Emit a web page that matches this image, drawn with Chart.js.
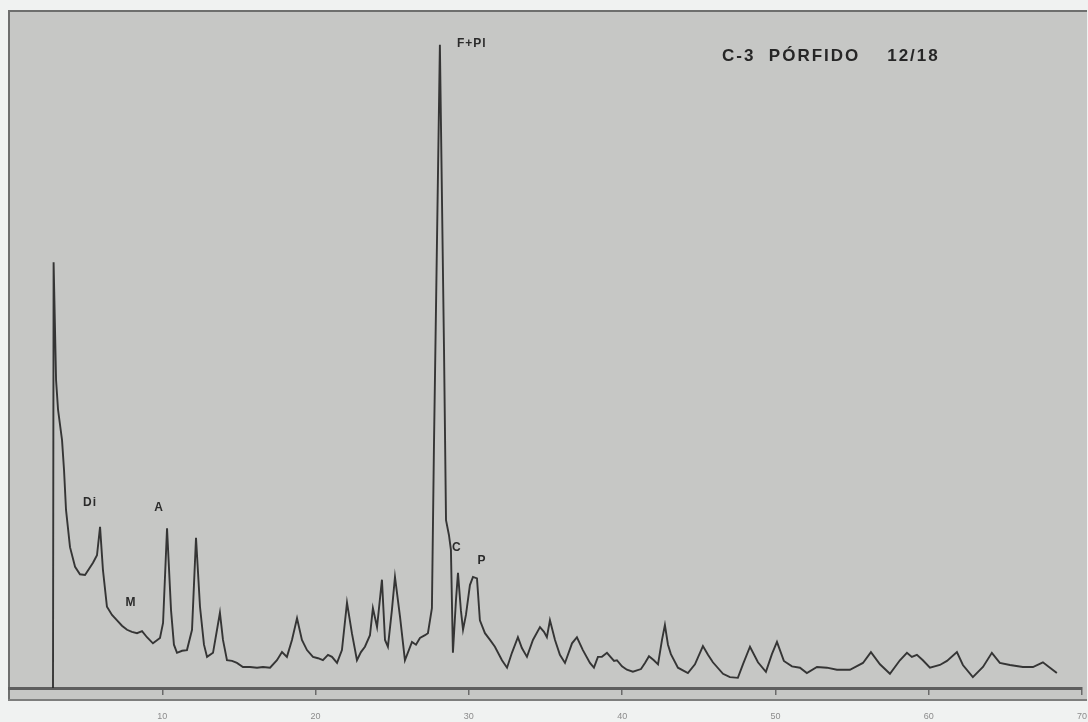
<!DOCTYPE html>
<html lang="es">
<head>
  <meta charset="UTF-8">
  <title>C-3 Pórfido 12/18 - Difractograma</title>
  <script src="https://cdn.jsdelivr.net/npm/chart.js"></script>
  <style>
    html, body { margin: 0; padding: 0; background: #f0f2f1; }
    #wrap { position: relative; width: 1088px; height: 722px; }
  </style>
</head>
<body>
  <div id="wrap"><canvas id="xrd"></canvas></div>

  <script>
    // Ángulo 2θ (grados) e intensidad relativa del barrido
    const twoTheta = [
      2.87, 2.91, 3.07, 3.20, 3.46, 3.59, 3.72, 3.98, 4.31, 4.63,
      4.96, 5.48, 5.74, 5.94, 6.13, 6.39, 6.72, 7.05, 7.37, 7.70,
      8.02, 8.35, 8.68, 9.00, 9.39, 9.85, 10.05, 10.31, 10.57, 10.76,
      10.96, 11.29, 11.61, 11.94, 12.20, 12.46, 12.72, 12.92, 13.31, 13.57,
      13.76, 13.96, 14.22, 14.55, 14.87, 15.26, 15.72, 16.18, 16.57, 17.03,
      17.48, 17.81, 18.13, 18.46, 18.79, 19.11, 19.44, 19.83, 20.16, 20.48,
      20.81, 21.07, 21.40, 21.72, 22.05, 22.37, 22.70, 22.96, 23.22, 23.55,
      23.74, 24.01, 24.33, 24.53, 24.72, 24.98, 25.18, 25.51, 25.83, 26.29,
      26.55, 26.81, 27.14, 27.33, 27.59, 27.72, 28.11, 28.38, 28.51, 28.70,
      28.83, 28.96, 29.16, 29.29, 29.48, 29.62, 29.81, 30.07, 30.27, 30.53,
      30.72, 31.05, 31.38, 31.70, 32.16, 32.49, 32.81, 33.20, 33.46, 33.79,
      34.18, 34.64, 34.90, 35.09, 35.29, 35.62, 35.94, 36.27, 36.73, 37.05,
      37.44, 37.90, 38.16, 38.42, 38.68, 39.01, 39.47, 39.66, 39.99, 40.31,
      40.70, 41.23, 41.49, 41.75, 42.07, 42.34, 42.60, 42.79, 42.99, 43.18,
      43.64, 44.29, 44.75, 45.27, 45.60, 45.92, 46.58, 47.03, 47.55, 47.88,
      48.34, 48.86, 49.38, 49.77, 50.10, 50.55, 51.08, 51.60, 52.05, 52.71,
      53.36, 54.01, 54.86, 55.71, 56.23, 56.82, 57.47, 58.12, 58.58, 58.90,
      59.23, 59.62, 60.08, 60.73, 61.19, 61.84, 62.23, 62.88, 63.54, 64.12,
      64.64, 65.30, 66.14, 66.80, 67.45, 67.91, 68.36
    ];
    const counts = [
      0, 629, 455, 411, 366, 322, 263, 208, 179, 168,
      167, 185, 196, 238, 174, 120, 108, 100, 92, 86,
      83, 81, 84, 75, 66, 74, 96, 236, 115, 64,
      52, 55, 56, 86, 222, 120, 64, 46, 52, 86,
      111, 71, 41, 40, 37, 31, 31, 30, 31, 30,
      41, 53, 46, 71, 103, 71, 56, 46, 44, 41,
      49, 46, 37, 56, 126, 81, 41, 53, 61, 78,
      118, 90, 160, 71, 61, 115, 164, 105, 41, 68,
      64, 74, 78, 81, 118, 352, 950, 499, 248, 226,
      204, 52, 130, 170, 115, 86, 108, 152, 164, 162,
      100, 81, 71, 61, 41, 30, 52, 75, 59, 46,
      71, 90, 83, 75, 100, 71, 49, 37, 66, 75,
      56, 37, 30, 46, 46, 52, 40, 41, 32, 27,
      24, 28, 37, 47, 41, 35, 71, 93, 64, 50,
      30, 22, 35, 62, 49, 38, 21, 16, 15, 35,
      61, 38, 24, 50, 68, 40, 32, 30, 22, 31,
      30, 27, 27, 37, 53, 35, 21, 41, 52, 46,
      49, 41, 30, 34, 40, 53, 34, 16, 31, 52,
      37, 34, 31, 31, 38, 30, 22
    ];
    const xTicks = [10, 20, 30, 40, 50, 60, 70];

    const sampleTitle = 'C-3  PÓRFIDO    12/18';
    // Fases identificadas y el 2θ del pico que marcan
    const phaseNames = ['F+Pl', 'Di', 'A', 'M', 'C', 'P'];
    const phaseAngles = [28.11, 5.94, 10.31, 8.02, 28.83, 30.27];

    const points = twoTheta.map((t, i) => ({ x: t, y: counts[i] }));

    // Fondo gris del registro con su marco
    const paperPlugin = {
      id: 'paper',
      beforeDraw(chart) {
        const ctx = chart.ctx;
        ctx.save();
        ctx.fillStyle = '#f0f2f1';
        ctx.fillRect(0, 0, chart.width, chart.height);
        ctx.fillStyle = '#c6c7c5';
        ctx.fillRect(8, 10, 1079, 691);
        ctx.strokeStyle = '#6e6f6e';
        ctx.lineWidth = 2;
        ctx.beginPath();
        ctx.moveTo(9, 701);
        ctx.lineTo(9, 11);
        ctx.lineTo(1087, 11);
        ctx.stroke();
        ctx.strokeStyle = '#7d7e7d';
        ctx.beginPath();
        ctx.moveTo(8, 700);
        ctx.lineTo(1087, 700);
        ctx.stroke();
        ctx.restore();
      }
    };

    // Rótulos: título de la muestra y fases sobre sus picos
    const labelsPlugin = {
      id: 'phaseLabels',
      afterDatasetsDraw(chart) {
        const ctx = chart.ctx;
        const xs = chart.scales.x, ys = chart.scales.y;
        const offsets = {
          'F+Pl': [17, -1, 'left'],
          'Di': [-10, -24, 'center'],
          'A': [-8, -21, 'center'],
          'M': [-1, -29, 'center'],
          'C': [6, -2, 'center'],
          'P': [9, -16, 'center']
        };
        ctx.save();
        ctx.fillStyle = '#2b2b2b';
        ctx.textBaseline = 'middle';
        ctx.font = 'bold 12px "Liberation Sans", Arial, sans-serif';
        ctx.letterSpacing = '1px';
        phaseNames.forEach((name, i) => {
          const idx = twoTheta.indexOf(phaseAngles[i]);
          const px = xs.getPixelForValue(twoTheta[idx]);
          const py = ys.getPixelForValue(counts[idx]);
          const [dx, dy, align] = offsets[name];
          ctx.textAlign = align;
          ctx.fillText(name, px + dx, py + dy);
        });
        ctx.font = 'bold 17px "Liberation Sans", Arial, sans-serif';
        ctx.letterSpacing = '2px';
        ctx.textAlign = 'left';
        ctx.fillStyle = '#262626';
        ctx.fillText(sampleTitle, 722, 56);
        ctx.restore();
      }
    };

    new Chart(document.getElementById('xrd'), {
      type: 'line',
      data: {
        datasets: [{
          data: points,
          borderColor: 'rgba(40,40,40,0.92)',
          borderWidth: 1.9,
          pointRadius: 0,
          tension: 0,
          fill: false
        }]
      },
      options: {
        responsive: true,
        maintainAspectRatio: false,
        animation: false,
        layout: { padding: { left: 9, right: 6, top: 11, bottom: 0 } },
        plugins: { legend: { display: false }, tooltip: { enabled: false } },
        scales: {
          x: {
            type: 'linear',
            min: 0,
            max: 70,
            afterFit(scale) {
              scale.height = 34;
              scale.paddingLeft = 0;
              scale.paddingRight = 0;
            },
            afterBuildTicks(scale) { scale.ticks = xTicks.map(v => ({ value: v })); },
            ticks: {
              color: '#8c8c8c',
              padding: 16,
              font: { family: '"Liberation Sans", Arial, sans-serif', size: 9 }
            },
            grid: { drawOnChartArea: false, drawTicks: true, tickLength: 7, color: '#6a6a6a', lineWidth: 1.5 },
            border: { color: '#5e5e5e', width: 3 }
          },
          y: { display: false, min: 0, max: 1000 }
        }
      },
      plugins: [paperPlugin, labelsPlugin]
    });
  </script>
</body>
</html>
